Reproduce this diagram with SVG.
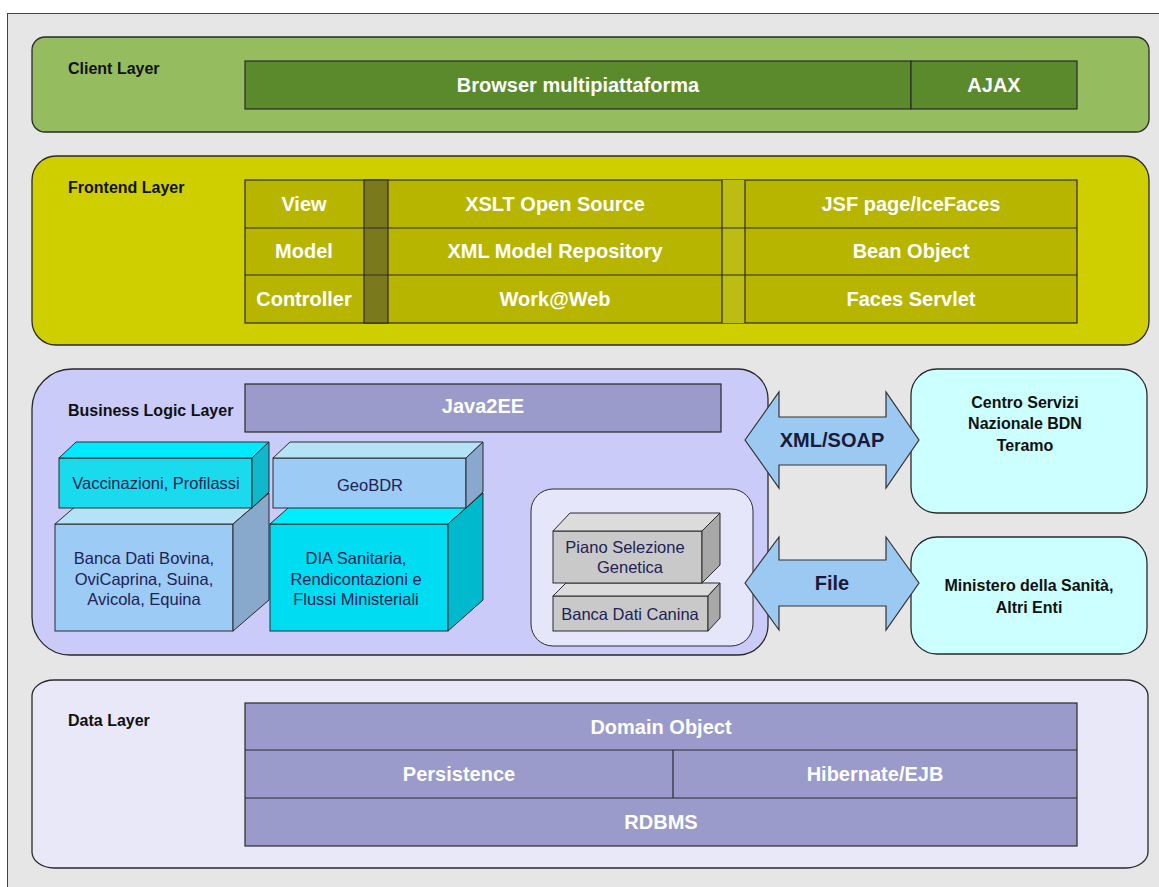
<svg xmlns="http://www.w3.org/2000/svg" width="1159" height="887" viewBox="0 0 1159 887">
<style>
text{font-family:"Liberation Sans",Arial,sans-serif}
.lbl{font-size:16px;font-weight:bold;fill:#111}
.cell{font-size:20px;font-weight:bold;fill:#fff;text-anchor:middle}
.cube{font-size:16.5px;fill:#222255;text-anchor:middle}
.ext{font-size:16px;font-weight:bold;fill:#111;text-anchor:middle}
.arr{font-size:20px;font-weight:bold;fill:#1a1a3a;text-anchor:middle}
.layer{stroke:#2a2a2a;stroke-width:1.3}
.cs{stroke:#2a2a2a;stroke-width:1.2}
.fs{stroke:#2a2a2a;stroke-width:1}
.arrow{fill:#9cc9f2;stroke:#333;stroke-width:1.2}
</style>
<rect x="0" y="0" width="1159" height="887" fill="#ffffff"/>
<rect x="7.5" y="13.5" width="1200" height="1000" fill="#e6e6e6" stroke="#444" stroke-width="1"/>

<g id="client-layer">
<rect class="layer" x="32" y="37" width="1117" height="95" rx="13" fill="#96bc60"/>
<text class="lbl" x="68" y="74">Client Layer</text>
<rect class="cs" x="245" y="61" width="666" height="48" fill="#5a8a2c"/>
<rect class="cs" x="911" y="61" width="166" height="48" fill="#5a8a2c"/>
<text class="cell" x="578" y="92">Browser multipiattaforma</text>
<text class="cell" x="994" y="92">AJAX</text>
</g>

<g id="frontend-layer">
<rect class="layer" x="32" y="156" width="1117" height="189" rx="24" fill="#cfcf00"/>
<text class="lbl" x="68" y="193">Frontend Layer</text>
<rect class="cs" x="245" y="180" width="832" height="143" fill="#b8b500"/>
<rect class="cs" x="364" y="180" width="24" height="143" fill="#7a7a1c"/>
<rect x="722" y="180" width="23" height="143" fill="#bcbc12"/>
<g class="cs" fill="none">
<line x1="722" y1="180" x2="722" y2="323"/>
<line x1="745" y1="180" x2="745" y2="323"/>
<line x1="245" y1="228" x2="1077" y2="228"/>
<line x1="245" y1="275" x2="1077" y2="275"/>
</g>
<text class="cell" x="304" y="211">View</text>
<text class="cell" x="555" y="211">XSLT Open Source</text>
<text class="cell" x="911" y="211">JSF page/IceFaces</text>
<text class="cell" x="304" y="258">Model</text>
<text class="cell" x="555" y="258">XML Model Repository</text>
<text class="cell" x="911" y="258">Bean Object</text>
<text class="cell" x="304" y="306">Controller</text>
<text class="cell" x="555" y="306">Work@Web</text>
<text class="cell" x="911" y="306">Faces Servlet</text>
</g>

<g id="business-layer">
<path class="layer" d="M72 369 H738 A30 30 0 0 1 768 399 V625 A30 30 0 0 1 738 655 H70 A38 38 0 0 1 32 617 V409 A40 40 0 0 1 72 369 Z" fill="#cbcbfa"/>
<text class="lbl" x="68" y="416">Business Logic Layer</text>
<rect class="cs" x="245" y="384" width="476" height="48" fill="#9a9acb"/>
<text class="cell" x="483" y="413">Java2EE</text>
</g>

<g id="banca-dati-bovina">
<rect class="fs" x="55" y="524" width="178" height="107" fill="#9ccbf6"/>
<polygon class="fs" points="55,524 91,493 269,493 233,524" fill="#b6e2f8"/>
<polygon class="fs" points="233,524 269,493 269,600 233,631" fill="#88a8cc"/>
<text class="cube" x="144" y="564">Banca Dati Bovina,</text>
<text class="cube" x="144" y="585">OviCaprina, Suina,</text>
<text class="cube" x="144" y="605">Avicola, Equina</text>
</g>

<g id="vaccinazioni">
<rect class="fs" x="59" y="458" width="193" height="50" fill="#1adbee"/>
<polygon class="fs" points="59,458 76,442 269,442 252,458" fill="#00eaff"/>
<polygon class="fs" points="252,458 269,442 269,492 252,508" fill="#10b8cb"/>
<text class="cube" x="156" y="489">Vaccinazioni, Profilassi</text>
</g>

<g id="dia-sanitaria">
<rect class="fs" x="270" y="524" width="178" height="107" fill="#00ddf2"/>
<polygon class="fs" points="270,524 305,493 483,493 448,524" fill="#00eeff"/>
<polygon class="fs" points="448,524 483,493 483,600 448,631" fill="#00b9cc"/>
<text class="cube" x="356" y="564">DIA Sanitaria,</text>
<text class="cube" x="356" y="585">Rendicontazioni e</text>
<text class="cube" x="356" y="605">Flussi Ministeriali</text>
</g>

<g id="geobdr">
<rect class="fs" x="273" y="458" width="193" height="50" fill="#9ccbf6"/>
<polygon class="fs" points="273,458 290,442 483,442 466,458" fill="#b6e2f8"/>
<polygon class="fs" points="466,458 483,442 483,492 466,508" fill="#88a8cc"/>
<text class="cube" x="370" y="491">GeoBDR</text>
</g>

<g id="canina-group">
<rect class="fs" x="531" y="489" width="222" height="157" rx="22" fill="#e6e6fa"/>
<rect class="fs" x="553" y="596" width="155" height="35" fill="#c9c9c9"/>
<polygon class="fs" points="553,596 566,583 720,583 708,596" fill="#dcdcdc"/>
<polygon class="fs" points="708,596 720,583 720,618 708,631" fill="#a8a8a8"/>
<text class="cube" x="630" y="620">Banca Dati Canina</text>
<rect class="fs" x="553" y="531" width="149" height="52" fill="#c9c9c9"/>
<polygon class="fs" points="553,531 570,513 720,513 702,531" fill="#dcdcdc"/>
<polygon class="fs" points="702,531 720,513 720,565 702,583" fill="#a8a8a8"/>
<text class="cube" x="625" y="553">Piano Selezione</text>
<text class="cube" x="630" y="573">Genetica</text>
</g>

<g id="centro-servizi">
<rect class="layer" x="911" y="369" width="236" height="144" rx="26" fill="#ccffff"/>
<text class="ext" x="1025" y="408">Centro Servizi</text>
<text class="ext" x="1025" y="429">Nazionale BDN</text>
<text class="ext" x="1025" y="451">Teramo</text>
</g>

<g id="ministero">
<rect class="layer" x="911" y="537" width="236" height="117" rx="26" fill="#ccffff"/>
<text class="ext" x="1029" y="591">Ministero della Sanità,</text>
<text class="ext" x="1029" y="613">Altri Enti</text>
</g>

<g id="connectors">
<polygon class="arrow" points="745,440 779,392 779,417 886,417 886,392 919,440 886,488 886,465 779,465 779,488"/>
<text class="arr" x="832" y="447">XML/SOAP</text>
<polygon class="arrow" points="745,583 779,537 779,560 886,560 886,537 919,583 886,630 886,606 779,606 779,630"/>
<text class="arr" x="832" y="590">File</text>
</g>

<g id="data-layer">
<rect class="layer" x="32" y="680" width="1116" height="188" rx="22" ry="16" fill="#e8e8f8"/>
<text class="lbl" x="68" y="726">Data Layer</text>
<rect class="cs" x="245" y="703" width="832" height="143" fill="#9a9acb"/>
<g class="cs" fill="none">
<line x1="245" y1="750" x2="1077" y2="750"/>
<line x1="245" y1="798" x2="1077" y2="798"/>
<line x1="673" y1="750" x2="673" y2="798"/>
</g>
<text class="cell" x="661" y="734">Domain Object</text>
<text class="cell" x="459" y="781">Persistence</text>
<text class="cell" x="875" y="781">Hibernate/EJB</text>
<text class="cell" x="661" y="829">RDBMS</text>
</g>
</svg>
